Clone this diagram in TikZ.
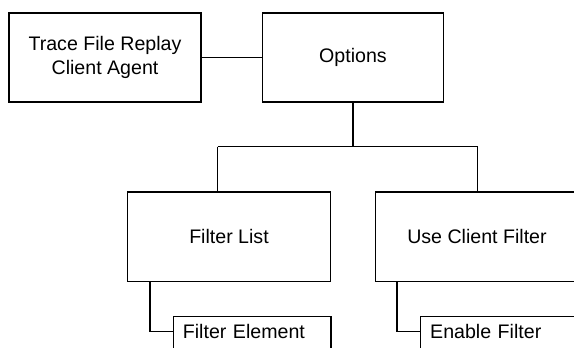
\documentclass[tikz,border=0pt]{standalone}
\usepackage{fontspec}
\setmainfont{Liberation Sans}
\begin{document}
\begin{tikzpicture}[x=1pt,y=-1pt,
  every node/.style={font=\fontsize{19.6}{24}\selectfont},
  bigbox/.style={draw, line width=1.4pt, inner sep=0pt, align=center},
  subbox/.style={draw, line width=1.4pt, anchor=north west, align=left,
     inner xsep=9.5pt, inner ysep=8pt, text height=14pt, text depth=60pt},
  conn/.style={line width=1.4pt}]
\useasboundingbox (0,0) rectangle (574,348);
\clip (0,0) rectangle (574,348);
\fill[white] (0,0) rectangle (574,348);
\node[bigbox, minimum width=192pt, minimum height=89pt] (tfr) at (105,57.3) {Trace File Replay\\Client Agent};
\node[bigbox, minimum width=180.5pt, minimum height=89pt] (opt) at (353,57.3) {Options};
\node[bigbox, minimum width=202.6pt, minimum height=89.7pt] (fl) at (229,236.8) {Filter List};
\node[bigbox, minimum width=203.4pt, minimum height=89.7pt] (ucf) at (477,236.8) {Use Client Filter};
\node[subbox, text width=138.6pt] (fe) at (172.7,315.7) {Filter Element};
\node[subbox, text width=138.6pt] (ef) at (420,315.7) {Enable Filter};
\coordinate (bl) at (217.5,146.7);
\coordinate (br) at (478,146.7);
\draw[conn] (tfr.east) -- (opt.west);
\draw[conn] (opt.south) -- (opt.south |- bl);
\draw[conn] (bl) -- (br);
\draw[conn] (bl) -- (bl |- fl.north);
\draw[conn] ([xshift=-0.7pt]br) -- ([xshift=-0.7pt]br |- ucf.north);
\draw[conn] ([xshift=23pt]fl.south west) |- ([yshift=-16pt]fe.north west);
\draw[conn] ([xshift=22.4pt]ucf.south west) |- ([yshift=-16pt]ef.north west);
\end{tikzpicture}
\end{document}
